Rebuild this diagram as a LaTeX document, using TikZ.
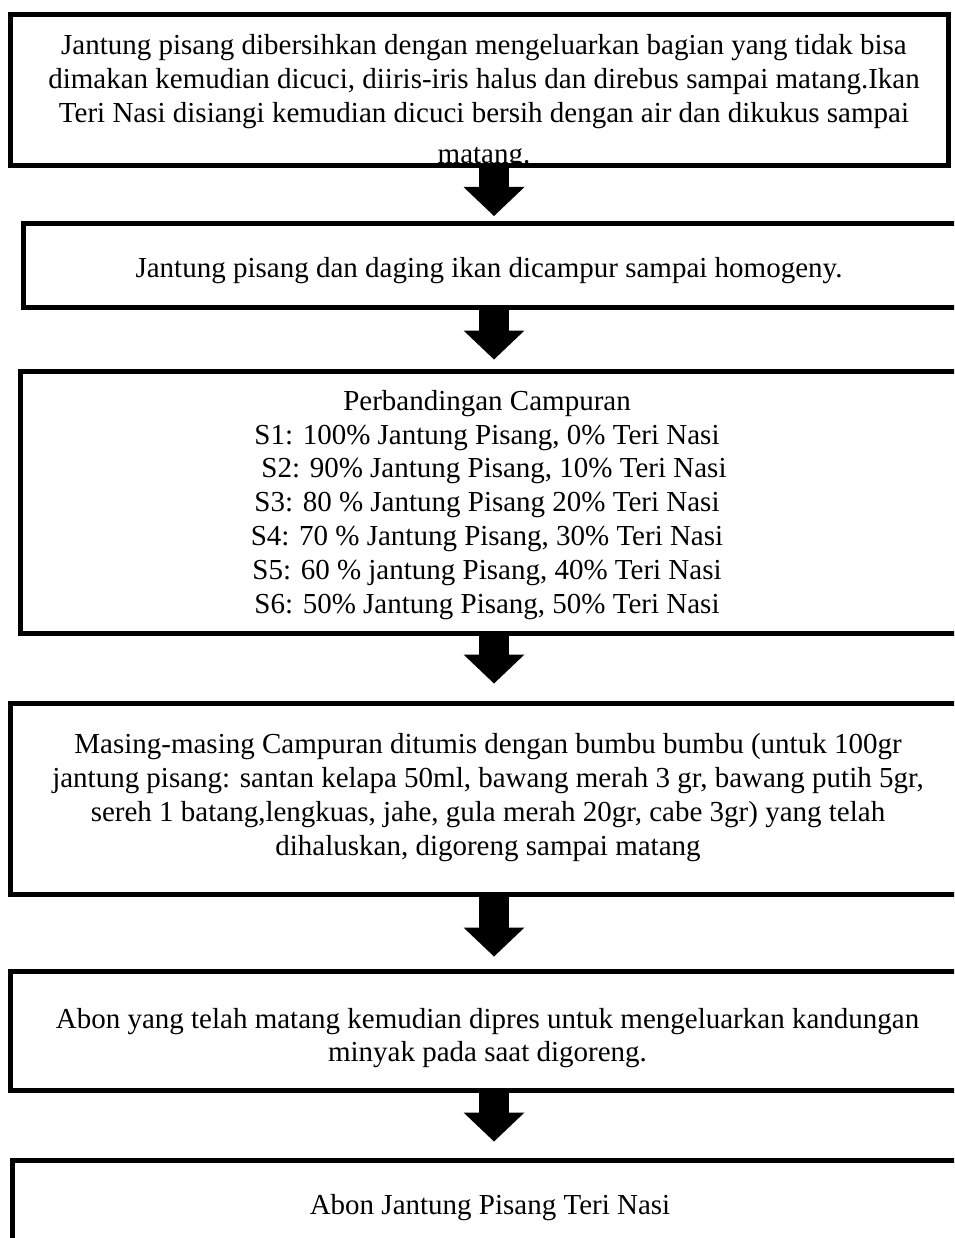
\documentclass[tikz,border=0pt]{standalone}
\usepackage{fontspec}
\setmainfont{Liberation Serif}
\usetikzlibrary{arrows.meta}
\tikzset{>=latex}
\tikzset{
  frame/.style={draw, line width=5pt, inner sep=0pt, outer sep=0pt, anchor=north west},
  txt/.style={align=center, inner sep=0pt, font={\fontsize{29}{33.8}\selectfont}},
  blockarrow/.style={line width=30pt, -{Triangle[width=61pt,length=29pt,line width=0pt]}}
}

\begin{document}
\begin{tikzpicture}[x=1pt, y=-1pt]
    \useasboundingbox (0,0) rectangle (954,1238);
    \clip (0,0) rectangle (954,1238);
    \node[frame, minimum width=938, minimum height=151] (b1) at (10.5,14.5) {};
    \node[frame, minimum width=940, minimum height=84] (b2) at (23.5,223.5) {};
    \node[frame, minimum width=940, minimum height=262] (b3) at (20.5,371.5) {};
    \node[frame, minimum width=960, minimum height=191] (b4) at (10.5,703.5) {};
    \node[frame, minimum width=960, minimum height=119] (b5) at (10.5,971.5) {};
    \node[frame, minimum width=960, minimum height=150] (b6) at (12.5,1160.5) {};
    \begin{scope}
        \clip (b1.north west) rectangle ([yshift=2.5pt]b1.south east);
        \node[txt, anchor=north] (t1) at (484,34.5) {Jantung pisang dibersihkan dengan mengeluarkan bagian yang tidak bisa\\dimakan kemudian dicuci, diiris-iris halus dan direbus sampai matang.Ikan\\Teri Nasi disiangi kemudian dicuci bersih dengan air dan dikukus sampai\\[7pt]matang.};
    \end{scope}
    \node[txt] (t2) at (489,271) {Jantung pisang dan daging ikan dicampur sampai homogeny.};
    \node[txt] (t3) at (487,504.7) {Perbandingan Campuran\\S1: 100\% Jantung Pisang, 0\% Teri Nasi\\\hspace*{14pt}S2: 90\% Jantung Pisang, 10\% Teri Nasi\\S3: 80 \% Jantung Pisang 20\% Teri Nasi\\S4: 70 \% Jantung Pisang, 30\% Teri Nasi\\S5: 60 \% jantung Pisang, 40\% Teri Nasi\\S6: 50\% Jantung Pisang, 50\% Teri Nasi};
    \node[txt] (t4) at (488,797.6) {Masing-masing Campuran ditumis dengan bumbu bumbu (untuk 100gr\\jantung pisang: santan kelapa 50ml, bawang merah 3 gr, bawang putih 5gr,\\sereh 1 batang,lengkuas, jahe, gula merah 20gr, cabe 3gr) yang telah\\dihaluskan, digoreng sampai matang};
    \node[txt] (t5) at (487.5,1038) {Abon yang telah matang kemudian dipres untuk mengeluarkan kandungan\\minyak pada saat digoreng.};
    \node[txt] (t6) at (490,1208) {Abon Jantung Pisang Teri Nasi};
    \coordinate (ax) at (494,0);
    \draw[blockarrow, shorten >=7.5pt] (b1.south -| ax) -- (b2.north -| ax);
    \draw[blockarrow, shorten >=12pt] (b2.south -| ax) -- (b3.north -| ax);
    \draw[blockarrow, shorten >=20pt] (b3.south -| ax) -- (b4.north -| ax);
    \draw[blockarrow, shorten >=15pt] (b4.south -| ax) -- (b5.north -| ax);
    \draw[blockarrow, shorten >=19pt] (b5.south -| ax) -- (b6.north -| ax);
\end{tikzpicture}
\end{document}
